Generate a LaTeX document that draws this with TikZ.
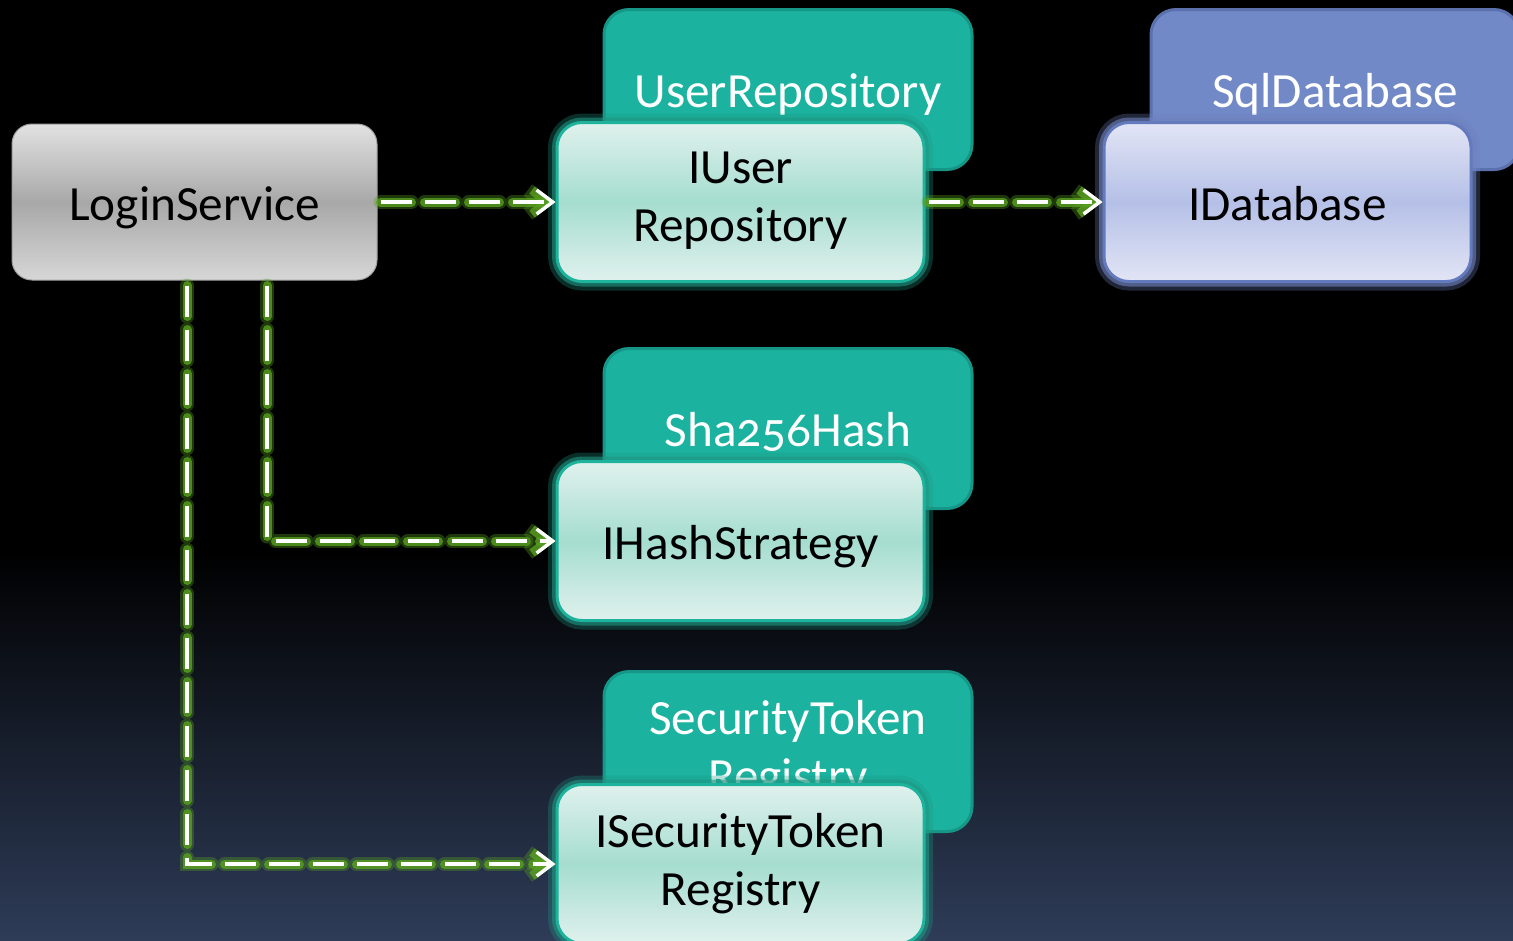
\documentclass[tikz,border=0pt]{standalone}
\usepackage{fontspec}
\setmainfont{Carlito}[Numbers=OldStyle]
\usetikzlibrary{positioning,arrows.meta}

\definecolor{bgBottom}{RGB}{46,60,88}
\definecolor{svcLight}{RGB}{226,226,226}
\definecolor{svcMid}{RGB}{168,168,168}
\definecolor{mintLight}{RGB}{224,241,237}
\definecolor{mintMid}{RGB}{165,221,207}
\definecolor{mintEdge}{RGB}{29,179,156}
\definecolor{mintGlow}{RGB}{30,150,130}
\definecolor{tealFill}{RGB}{27,179,159}
\definecolor{tealEdge}{RGB}{22,150,134}
\definecolor{lavLight}{RGB}{226,229,245}
\definecolor{lavMid}{RGB}{181,192,231}
\definecolor{lavEdge}{RGB}{100,122,190}
\definecolor{lavGlow}{RGB}{110,130,190}
\definecolor{blueFill}{RGB}{113,137,199}
\definecolor{blueEdge}{RGB}{90,113,174}
\definecolor{glowGreen}{RGB}{88,160,32}

\pgfdeclarelayer{bg}
\pgfdeclarelayer{back}
\pgfsetlayers{bg,back,main}

\tikzset{
  box/.style={rounded corners=0.25cm, minimum width=3.67cm, minimum height=1.59cm,
    align=center, inner sep=0pt, font=\fontsize{14}{16.5}\selectfont,
    execute at begin node={\rule[-0.1cm]{0pt}{0.56cm}}},
  servicebox/.style={box, rounded corners=0.2cm, minimum width=3.65cm, minimum height=1.56cm,
    top color=svcLight, bottom color=svcLight!95!black, middle color=svcMid,
    draw=svcLight!70!black, line width=0.01cm},
  ifacebox/.style={box, top color=mintLight, bottom color=mintLight, middle color=mintMid,
    draw=mintEdge, line width=0.03cm,
    preaction={draw=mintGlow, line width=0.18cm, draw opacity=0.3},
    preaction={draw=mintGlow, line width=0.10cm, draw opacity=0.6}},
  dbbox/.style={box, top color=lavLight, bottom color=lavLight, middle color=lavMid,
    draw=lavEdge, line width=0.03cm,
    preaction={draw=lavGlow, line width=0.18cm, draw opacity=0.3},
    preaction={draw=lavGlow, line width=0.10cm, draw opacity=0.6}},
  implbox/.style={box, minimum width=3.68cm, minimum height=1.60cm, text=white,
    fill=tealFill, draw=tealEdge, line width=0.03cm},
  sqlbox/.style={implbox, fill=blueFill, draw=blueEdge},
  dep/.style={draw=white, line width=0.035cm, dash pattern=on 0.31cm off 0.13cm,
    -{Straight Barb[length=0.16cm, width=0.24cm, line width=0.035cm]},
    preaction={draw=glowGreen, line width=0.14cm, line cap=round, draw opacity=0.35,
      dash pattern=on 0.31cm off 0.13cm,
      -{Straight Barb[length=0.16cm, width=0.24cm, line width=0.14cm]}},
    preaction={draw=glowGreen, line width=0.09cm, line cap=round, draw opacity=0.8,
      dash pattern=on 0.31cm off 0.13cm,
      -{Straight Barb[length=0.16cm, width=0.24cm, line width=0.09cm]}}}
}

\begin{document}
\begin{tikzpicture}
  \useasboundingbox (0,0) rectangle (15.13,-9.40);
  \begin{pgfonlayer}{bg}
    \fill[black] (0,0) rectangle (15.13,-5.55);
    \shade[top color=black, bottom color=bgBottom] (0,-5.5) rectangle (15.13,-9.40);
  \end{pgfonlayer}

  % interfaces
  \node[servicebox] (login) at (1.945,-2.02) {LoginService};
  \node[ifacebox, right=1.78cm of login] (iuser) {IUser\\Repository};
  \node[dbbox, right=1.77cm of iuser] (idb) {IDatabase};
  \node[ifacebox, below=1.77cm of iuser] (ihash) {IHashStrategy};
  \node[ifacebox, below=1.61cm of ihash] (itoken) {ISecurityToken\\Registry};

  % implementations behind
  \begin{pgfonlayer}{back}
    \node[implbox] (userrepo) at ([shift={(0.475,1.125)}]iuser.center) {UserRepository};
    \node[sqlbox] (sqldb) at ([shift={(0.475,1.125)}]idb.center) {SqlDatabase};
    \node[implbox] (sha) at ([shift={(0.475,1.125)}]ihash.center) {Sha256Hash};
    \node[implbox] (tokenreg) at ([shift={(0.475,1.125)}]itoken.center) {SecurityToken\\Registry};
  \end{pgfonlayer}

  \draw[dep] ([xshift=0.03cm]login.east) -- (iuser);
  \draw[dep] ([xshift=0.03cm]iuser.east) -- (idb);
  \draw[dep] ([xshift=0.725cm,yshift=-0.05cm]login.south) |- (ihash.west);
  \draw[dep] ([xshift=-0.075cm,yshift=-0.05cm]login.south) |- (itoken.west);
\end{tikzpicture}
\end{document}
